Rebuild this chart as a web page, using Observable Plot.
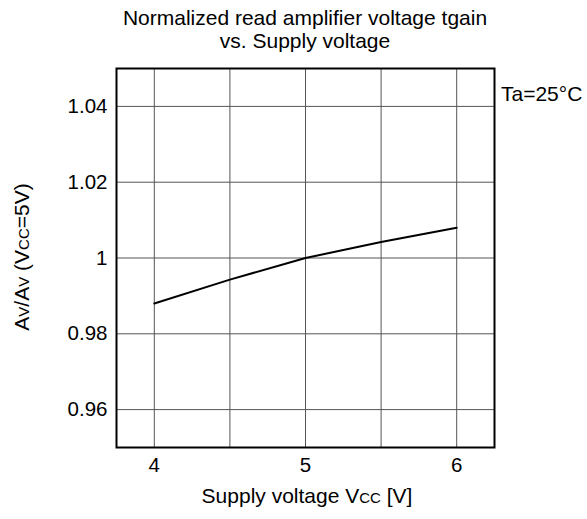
<!DOCTYPE html>
<html><head><meta charset="utf-8">
<script src="https://cdn.jsdelivr.net/npm/d3@7"></script>
<script src="https://cdn.jsdelivr.net/npm/@observablehq/plot@0.6"></script>
<style>body{margin:0;background:#fff} svg text{font-family:"Liberation Sans",Arial,sans-serif}</style>
</head><body><div id="chart"></div>
<script>
const supplyVoltage = [4, 4.5, 5, 5.5, 6];
const gainRatio = [0.988, 0.9943, 1.0, 1.0042, 1.008];
const xGridValues = [4, 4.5, 5, 5.5, 6];
const xTickValues = [4, 5, 6];
const yTickValues = [0.96, 0.98, 1, 1.02, 1.04];
const yTickLabels = ["0.96", "0.98", "1", "1.02", "1.04"];
const titleLines = ["Normalized read amplifier voltage tgain", "vs. Supply voltage"];
const condition = "Ta=25°C";

const data = supplyVoltage.map((v, i) => ({v, g: gainRatio[i]}));
const W = 587, H = 519, FS = 21, TFS = 20.5;
const plot = Plot.plot({
  width: W, height: H,
  marginLeft: 116, marginRight: 93, marginTop: 68, marginBottom: 72,
  style: {fontFamily: "Liberation Sans, Arial, sans-serif", fontSize: TFS + "px", color: "#000", background: "#fff"},
  x: {domain: [3.75, 6.25]},
  y: {domain: [0.95, 1.05]},
  marks: [
    Plot.ruleX(xGridValues, {stroke: "#555", strokeWidth: 1}),
    Plot.ruleY(yTickValues, {stroke: "#555", strokeWidth: 1}),
    Plot.axisX(xTickValues, {tickSize: 0, tickPadding: 10, label: null, tickFormat: d => String(d), fontSize: TFS}),
    Plot.axisY(yTickValues, {tickSize: 0, tickPadding: 9, label: null, tickFormat: d => yTickLabels[yTickValues.indexOf(d)], fontSize: TFS}),
    Plot.line(data, {x: "v", y: "g", stroke: "#000", strokeWidth: 2}),
    Plot.frame({stroke: "#000", strokeWidth: 2})
  ]
});
const svg = d3.select(plot);
const font = "Liberation Sans, Arial, sans-serif";
titleLines.forEach((t, i) => {
  svg.append("text").attr("x", 305).attr("y", 25 + i * 23)
    .attr("text-anchor", "middle").attr("font-family", font).attr("font-size", FS).attr("fill", "#000").text(t);
});
svg.append("text").attr("x", 501).attr("y", 101).attr("text-anchor", "start")
  .attr("font-family", font).attr("font-size", FS).attr("fill", "#000").text(condition);
const xl = svg.append("text").attr("x", 307).attr("y", 503)
  .attr("text-anchor", "middle").attr("font-family", font).attr("font-size", FS).attr("fill", "#000");
xl.append("tspan").text("Supply voltage V");
xl.append("tspan").style("font-variant", "small-caps").text("cc");
xl.append("tspan").text(" [V]");
const yl = svg.append("text").attr("transform", "translate(29,257) rotate(-90)")
  .attr("text-anchor", "middle").attr("font-family", font).attr("font-size", FS).attr("fill", "#000");
yl.append("tspan").text("A");
yl.append("tspan").style("font-variant", "small-caps").text("v");
yl.append("tspan").text("/A");
yl.append("tspan").style("font-variant", "small-caps").text("v");
yl.append("tspan").text(" (V");
yl.append("tspan").style("font-variant", "small-caps").text("cc");
yl.append("tspan").text("=5V)");
document.getElementById("chart").appendChild(plot);
</script></body></html>
